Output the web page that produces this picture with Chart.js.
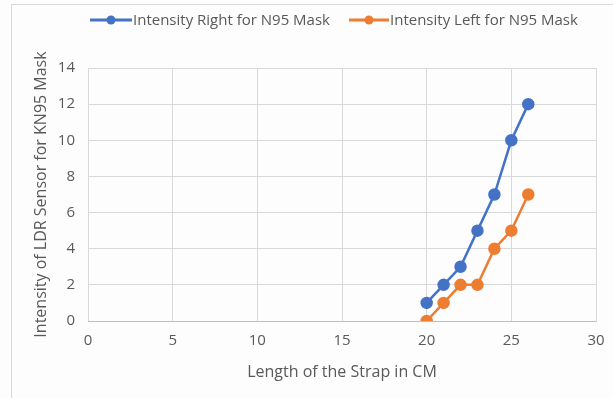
<!DOCTYPE html>
<html>
<head>
<meta charset="utf-8">
<script src="https://cdn.jsdelivr.net/npm/chart.js@4"></script>
<style>
  html, body { margin: 0; padding: 0; background: #fdfdfd; }
  #wrap { position: relative; width: 613px; height: 398px; }
  #frame { position: absolute; left: 11px; top: 4px; right: -2px; bottom: -2px; border: 1px solid #d9d9d9; }
</style>
</head>
<body>
<div id="wrap">
  <div id="frame"></div>
  <canvas id="strapChart" width="613" height="398"></canvas>
</div>
<script>
var strapLength = [20, 21, 22, 23, 24, 25, 26];
var intensityRight = [1, 2, 3, 5, 7, 10, 12];
var intensityLeft = [0, 1, 2, 2, 4, 5, 7];
var seriesNames = ["Intensity Right for N95 Mask", "Intensity Left for N95 Mask"];
var seriesColors = ["#4472c4", "#ed7d31"];

function toPoints(xs, ys) {
  return xs.map(function (x, i) { return { x: x, y: ys[i] }; });
}

var fontFamily = "'Open Sans', 'Liberation Sans', sans-serif";
var textColor = "#595959";

// excel style legend: short line with a dot in the middle
var legendPlugin = {
  id: "excelLegend",
  afterDraw: function (chart) {
    var ctx = chart.ctx;
    var items = [
      { x: 90, w: 42, text: seriesNames[0], color: seriesColors[0] },
      { x: 349, w: 40, text: seriesNames[1], color: seriesColors[1] }
    ];
    var y = 20;
    ctx.save();
    items.forEach(function (it) {
      ctx.strokeStyle = it.color;
      ctx.lineWidth = 3;
      ctx.beginPath();
      ctx.moveTo(it.x, y);
      ctx.lineTo(it.x + it.w, y);
      ctx.stroke();
      ctx.fillStyle = it.color;
      ctx.beginPath();
      ctx.arc(it.x + it.w / 2, y, 4.5, 0, Math.PI * 2);
      ctx.fill();
      ctx.fillStyle = textColor;
      ctx.font = "15px " + fontFamily;
      ctx.textBaseline = "middle";
      ctx.textAlign = "left";
      ctx.fillText(it.text, it.x + it.w + 1, y + 1);
    });
    ctx.restore();
  }
};

var ctx = document.getElementById("strapChart");

new Chart(ctx, {
  type: "line",
  data: {
    datasets: [
      {
        label: seriesNames[0],
        data: toPoints(strapLength, intensityRight),
        borderColor: seriesColors[0],
        backgroundColor: seriesColors[0],
        borderWidth: 2.5,
        pointRadius: 5,
        pointHoverRadius: 5
      },
      {
        label: seriesNames[1],
        data: toPoints(strapLength, intensityLeft),
        borderColor: seriesColors[1],
        backgroundColor: seriesColors[1],
        borderWidth: 2.5,
        pointRadius: 5,
        pointHoverRadius: 5
      }
    ]
  },
  options: {
    responsive: false,
    animation: false,
    layout: { padding: { left: 0, top: 68, right: 17, bottom: 0 } },
    plugins: {
      legend: { display: false },
      tooltip: { enabled: false }
    },
    scales: {
      x: {
        type: "linear",
        min: 0,
        max: 30,
        ticks: { stepSize: 5, color: textColor, padding: 11, font: { family: fontFamily, size: 15 } },
        grid: { color: "#d9d9d9", drawTicks: false },
        border: { color: "#bfbfbf" },
        title: {
          display: true,
          text: "Length of the Strap in CM",
          color: textColor,
          font: { family: fontFamily, size: 16 },
          padding: { top: 0, bottom: 16 }
        },
        afterFit: function (scale) {
          scale.height = 77;
          scale.paddingLeft = 0;
          scale.paddingRight = 0;
        }
      },
      y: {
        min: 0,
        max: 14,
        ticks: { stepSize: 2, color: textColor, padding: 13, font: { family: fontFamily, size: 15 } },
        grid: { color: "#d9d9d9", drawTicks: false },
        border: { display: false },
        title: {
          display: true,
          text: "Intensity of LDR Sensor for KN95 Mask",
          color: textColor,
          font: { family: fontFamily, size: 16 },
          padding: { top: 32, bottom: 0 }
        },
        afterFit: function (scale) {
          scale.width = 88;
          scale.paddingTop = 0;
          scale.paddingBottom = 0;
        }
      }
    }
  },
  plugins: [legendPlugin]
});
</script>
</body>
</html>
